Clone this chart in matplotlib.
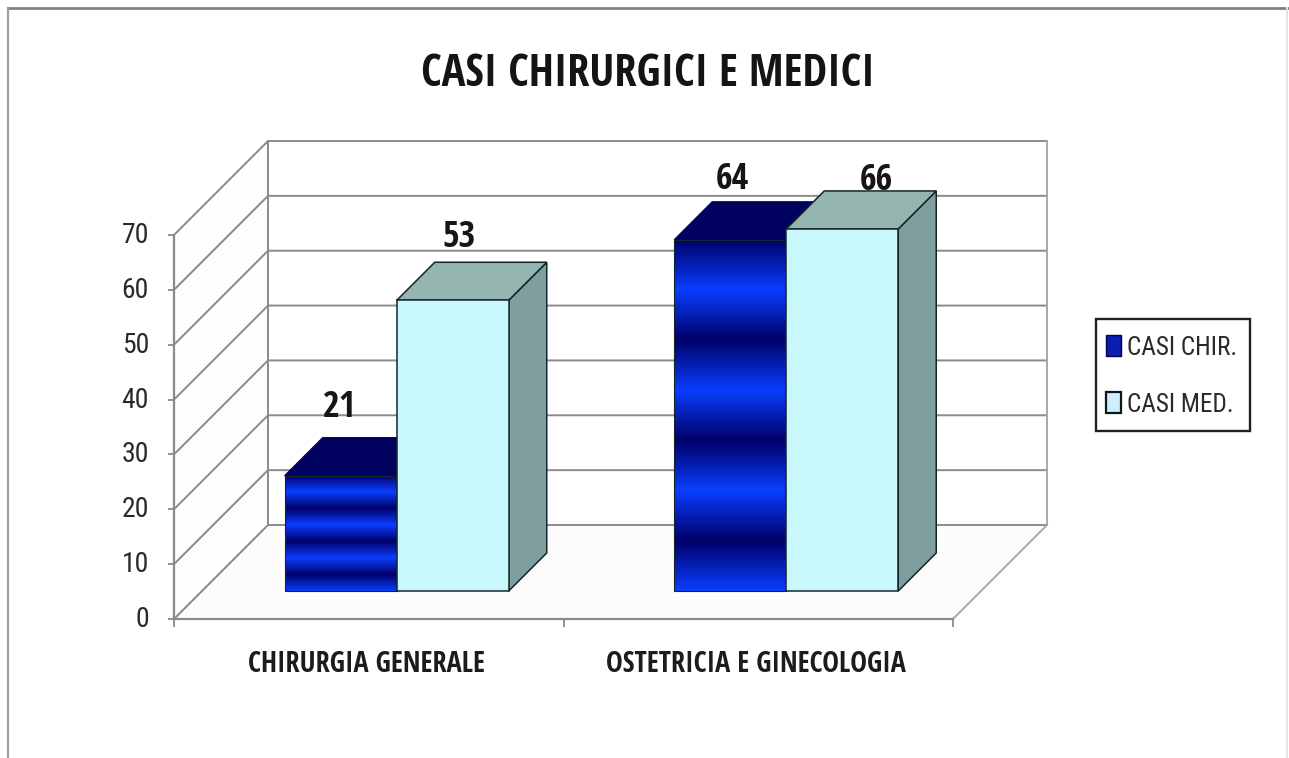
import numpy as np
import matplotlib
matplotlib.use("Agg")
import matplotlib.pyplot as plt
from matplotlib.patches import Polygon, Patch, Rectangle
from matplotlib.lines import Line2D
from matplotlib.legend_handler import HandlerPatch
from matplotlib.transforms import Affine2D

# ---- data ----
title = "CASI CHIRURGICI E MEDICI"
categories = ["CHIRURGIA GENERALE", "OSTETRICIA E GINECOLOGIA"]
casi_chir = [21, 64]
casi_med = [53, 66]
series_names = ["CASI CHIR.", "CASI MED."]
y_ticks = [0, 10, 20, 30, 40, 50, 60, 70]

# ---- style ----
W, H = 1289, 758
BOLD = ["Open Sans Condensed", "Roboto Condensed", "DejaVu Sans"]
REG = ["Roboto Condensed", "DejaVu Sans"]
plt.rcParams["font.family"] = REG
GRID = "#8a8a8a"
EDGE = "#14262a"
FRONT_MED, TOP_MED, SIDE_MED = "#c8f8fc", "#94b4b0", "#7f9f9f"
TOP_CHIR = "#00005e"
BRIGHT, DARK = np.array([10, 62, 255]) / 255, np.array([0, 0, 104]) / 255

fig = plt.figure(figsize=(W / 100, H / 100), dpi=100, facecolor="white")

# plot box of the front plane, in pixels
L, R, B, T = 174, 953, 619, 235
ax = fig.add_axes([L / W, 1 - B / H, (R - L) / W, (B - T) / H])
ax.set_facecolor("none")
ax.set_xlim(0, 2)
ax.set_ylim(0, 70)
ux, uy = (R - L) / 2, (B - T) / 70     # pixels per data unit


def pt(x, y, depth=0):
    """Data point pushed back by `depth` pixels of oblique projection."""
    return (x + depth / ux, y + depth / uy)


WALL = 94
BAR_FRONT, BAR_DEPTH = 28, 38
BAR_W = 112 / ux

# image frame
for xs, ys, c, lw in [((8, 1289), (8, 8), "#808080", 2.0),
                      ((8, 8), (8, 758), "#a0a0a0", 1.6),
                      ((1287, 1287), (8, 758), "#e4e4e4", 1.4)]:
    fig.add_artist(Line2D([v / W for v in xs], [1 - v / H for v in ys], color=c, lw=lw))

# walls and floor
floor = [pt(0, 0), pt(2, 0), pt(2, 0, WALL), pt(0, 0, WALL)]
ax.add_patch(Polygon(floor, fc="#fcfcfc", ec="none", clip_on=False, zorder=0))
side = [pt(0, 0), pt(0, 70), pt(0, 70, WALL), pt(0, 0, WALL)]
ax.add_patch(Polygon(side, fc="#fdfdfd", ec="none", clip_on=False, zorder=0))

for v in y_ticks:
    a, b, c = pt(0, v), pt(0, v, WALL), pt(2, v, WALL)
    ax.plot([a[0], b[0], c[0]], [a[1], b[1], c[1]], color=GRID, lw=1.4,
            clip_on=False, zorder=1, solid_joinstyle="miter")
a, b = pt(0, 0, WALL), pt(0, 70, WALL)
ax.plot([a[0], b[0]], [a[1], b[1]], color=GRID, lw=1.4, clip_on=False, zorder=1)
a, b = pt(2, 0, WALL), pt(2, 70, WALL)
ax.plot([a[0], b[0]], [a[1], b[1]], color="#a8a8a8", lw=1.4, clip_on=False, zorder=1)
a, b = pt(2, 0), pt(2, 0, WALL)
ax.plot([a[0], b[0]], [a[1], b[1]], color="#a8a8a8", lw=1.4, clip_on=False, zorder=1)

# gradient for the striped bars: dark at the top, 3.5 cycles, bright at the bottom
t = np.linspace(0, 1, 600)
phase = np.abs((t * 7) % 2 - 1)               # 0 = bright, 1 = dark
grad = (BRIGHT[None, :] * (1 - phase[:, None]) + DARK[None, :] * phase[:, None])[:, None, :]


def box_faces(x0, x1, v, top, side_c, z):
    ax.add_patch(Polygon([pt(x1, 0, BAR_FRONT), pt(x1, 0, BAR_FRONT + BAR_DEPTH),
                          pt(x1, v, BAR_FRONT + BAR_DEPTH), pt(x1, v, BAR_FRONT)],
                         fc=side_c, ec=EDGE, lw=1.1, clip_on=False, zorder=z))
    ax.add_patch(Polygon([pt(x0, v, BAR_FRONT), pt(x1, v, BAR_FRONT),
                          pt(x1, v, BAR_FRONT + BAR_DEPTH), pt(x0, v, BAR_FRONT + BAR_DEPTH)],
                         fc=top, ec=EDGE if top != TOP_CHIR else TOP_CHIR, lw=1.1,
                         clip_on=False, zorder=z))


for i, (c_val, m_val) in enumerate(zip(casi_chir, casi_med)):
    center = i + 0.5
    # blue bar
    x0, x1 = center - BAR_W, center
    box_faces(x0, x1, c_val, TOP_CHIR, TOP_CHIR, 2)
    (ax0, ay0), (ax1, ay1) = pt(x0, 0, BAR_FRONT), pt(x1, c_val, BAR_FRONT)
    ax.imshow(grad, extent=(ax0, ax1, ay0, ay1), aspect="auto", origin="upper",
              zorder=3, clip_on=False, interpolation="bilinear")
    ax.add_patch(Rectangle((ax0, ay0), ax1 - ax0, ay1 - ay0, fc="none", ec=EDGE, lw=0.8,
                           clip_on=False, zorder=3.1))
    # light bar
    x0, x1 = center, center + BAR_W
    box_faces(x0, x1, m_val, TOP_MED, SIDE_MED, 4)
    (bx0, by0), (bx1, by1) = pt(x0, 0, BAR_FRONT), pt(x1, m_val, BAR_FRONT)
    ax.add_patch(Rectangle((bx0, by0), bx1 - bx0, by1 - by0, fc=FRONT_MED, ec=EDGE, lw=1.1,
                           clip_on=False, zorder=5))

ax.set_xlim(0, 2)
ax.set_ylim(0, 70)

# value labels (each sits where the original placed it, offsets in pixels)
label_offsets = [(-39, 30), (-32, 24), (-36, 22), (-4, 10)]
label_values = [casi_chir[0], casi_med[0], casi_chir[1], casi_med[1]]
label_x = [0.5 - BAR_W / 2, 0.5 + BAR_W / 2, 1.5 - BAR_W / 2, 1.5 + BAR_W / 2]
for val, x, (ox, oy) in zip(label_values, label_x, label_offsets):
    ax.annotate(str(val), xy=pt(x, val, BAR_FRONT + BAR_DEPTH), xytext=(ox * 0.72, oy * 0.72),
                textcoords="offset points", ha="center", va="center", family=BOLD,
                fontsize=26, fontweight="bold", color="#161616", annotation_clip=False, zorder=3.5)

# axes
for s in ("top", "right"):
    ax.spines[s].set_visible(False)
for s in ("left", "bottom"):
    ax.spines[s].set_color(GRID)
    ax.spines[s].set_linewidth(1.6)
ax.set_yticks(y_ticks)
ax.tick_params(axis="y", length=4, width=1.3, color=GRID, pad=14, labelsize=20, labelcolor="#2a2a2a")
for lab in ax.get_yticklabels():
    lab.set_transform(lab.get_transform() + Affine2D().translate(0, 2.5))
ax.set_xticks([0, 1, 2])
ax.set_xticklabels([])
ax.tick_params(axis="x", which="major", length=6, width=1.3, color=GRID)
ax.set_xticks([0.5, 1.5], minor=True)
ax.set_xticklabels(categories, minor=True, fontsize=20.3, fontweight="bold", color="#1c1c1c", family=BOLD)
ax.tick_params(axis="x", which="minor", length=0, pad=22)
for lab in ax.get_xticklabels(minor=True):
    lab.set_transform(lab.get_transform() + Affine2D().translate(-2.5, 0))

fig.text(648 / W, 1 - 75 / H, title, ha="center", va="center", fontsize=32,
         fontweight="bold", color="#141414", family=BOLD)


# legend
def swatch(legend, orig_handle, xdescent, ydescent, width, height, fontsize):
    return Rectangle((-2, 0.36 * fontsize - 7.56), 10.8, 15.1)


handles = [Patch(fc="#0a1fb0", ec="#000050", lw=1.0), Patch(fc="#cdeefa", ec="#0a1a1a", lw=1.6)]
LEG_FS = 18.2
px = 100 / 72 * LEG_FS
leg = fig.legend(handles, series_names, loc="upper left",
                 bbox_to_anchor=(1096 / W, 1 - 319 / H), bbox_transform=fig.transFigure,
                 fontsize=LEG_FS, frameon=True, fancybox=False, framealpha=1, edgecolor="#202020",
                 borderaxespad=0, borderpad=13 / px, handlelength=18 / px, handleheight=35 / px,
                 handletextpad=0, labelspacing=28 / px,
                 handler_map={Patch: HandlerPatch(patch_func=swatch)}, labelcolor="#2a2a2a")
leg.get_frame().set_linewidth(1.7)

fig.savefig("out.png", dpi=100, facecolor="white")
